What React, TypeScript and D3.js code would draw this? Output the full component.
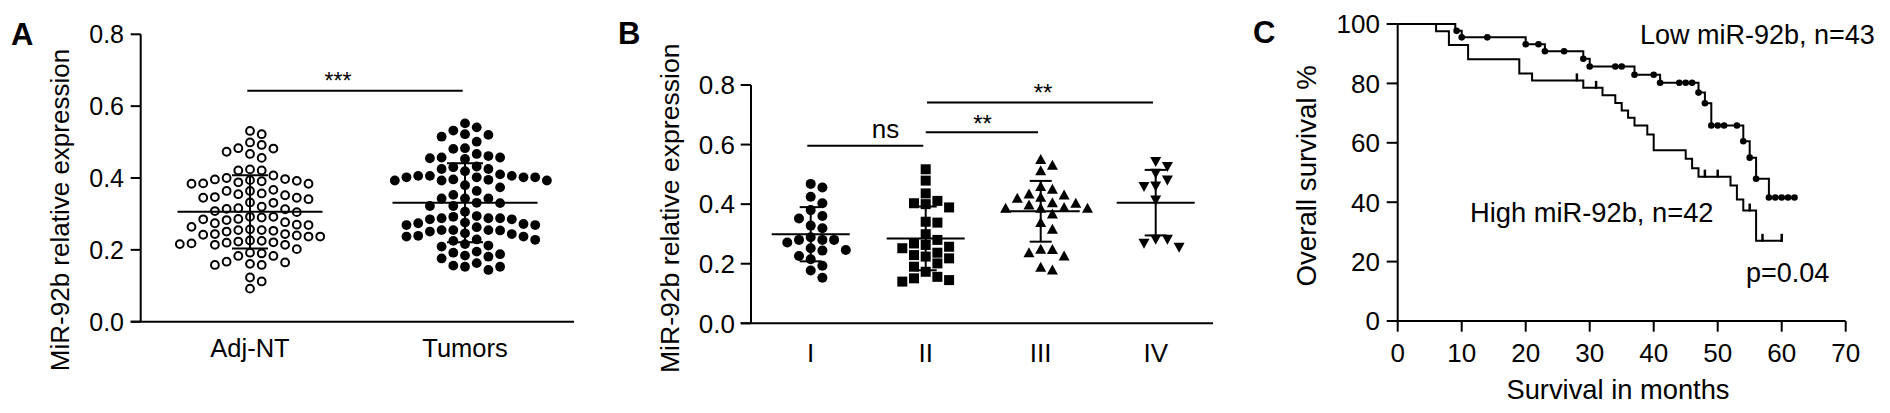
import React from "react";
import * as d3 from "d3";

// ---------- Panel A data ----------
const aCategories = ["Adj-NT", "Tumors"];
const adjNT = [
  0.531, 0.522, 0.499, 0.492, 0.483, 0.482, 0.473, 0.467, 0.456, 0.424, 0.421, 0.421,
  0.400, 0.396, 0.392, 0.388, 0.384, 0.384, 0.385, 0.391, 0.394, 0.397, 0.407,
  0.364, 0.357, 0.352, 0.345, 0.341, 0.345, 0.347, 0.355, 0.364, 0.367,
  0.332, 0.320, 0.314, 0.308, 0.305, 0.313, 0.316, 0.331,
  0.292, 0.290, 0.285, 0.277, 0.270, 0.264, 0.269, 0.274, 0.283, 0.286, 0.292,
  0.255, 0.253, 0.244, 0.240, 0.237, 0.237, 0.242, 0.244, 0.251, 0.255, 0.257,
  0.223, 0.218, 0.216, 0.214, 0.226, 0.202, 0.214, 0.220, 0.221, 0.225,
  0.190, 0.183, 0.165, 0.158, 0.192, 0.158, 0.161, 0.167, 0.183,
  0.123, 0.112, 0.092,
];
const tumors = [
  0.552, 0.541, 0.532, 0.515, 0.520, 0.522, 0.501, 0.483, 0.481,
  0.467, 0.457, 0.455, 0.453, 0.457, 0.461, 0.430, 0.432,
  0.425, 0.410, 0.406, 0.396, 0.402, 0.393, 0.402, 0.380, 0.402, 0.402, 0.406, 0.395, 0.406, 0.393, 0.419, 0.425, 0.393,
  0.374, 0.364, 0.343, 0.343, 0.343, 0.353, 0.331, 0.322, 0.322, 0.306, 0.330,
  0.292, 0.294, 0.288, 0.285, 0.288, 0.288, 0.285, 0.274, 0.269, 0.263,
  0.244, 0.237, 0.255, 0.229, 0.255, 0.225, 0.251, 0.216, 0.254, 0.212, 0.255, 0.228, 0.269, 0.237, 0.272, 0.239, 0.276, 0.246,
  0.209, 0.195, 0.188, 0.181, 0.176, 0.184, 0.192, 0.163, 0.153, 0.144, 0.153, 0.156,
];
const aMeans = [0.306, 0.331];
const aSDs = [0.102, 0.110];
const aTicks = [0, 0.2, 0.4, 0.6, 0.8];

// ---------- Panel B data ----------
const bCategories = ["I", "II", "III", "IV"];
const stageI = [0.468, 0.456, 0.425, 0.403, 0.380, 0.360, 0.352, 0.328, 0.319, 0.280, 0.280, 0.289, 0.271, 0.280, 0.252, 0.246, 0.244, 0.226, 0.215, 0.193, 0.177, 0.153];
const stageII = [0.517, 0.479, 0.436, 0.411, 0.400, 0.403, 0.389, 0.338, 0.341, 0.299, 0.280, 0.268, 0.263, 0.252, 0.257, 0.237, 0.229, 0.224, 0.218, 0.201, 0.190, 0.173, 0.151, 0.140, 0.145, 0.156];
const stageIII = [0.550, 0.531, 0.512, 0.450, 0.459, 0.431, 0.434, 0.423, 0.420, 0.405, 0.403, 0.397, 0.386, 0.386, 0.386, 0.389, 0.367, 0.338, 0.316, 0.249, 0.237, 0.248, 0.226, 0.179, 0.188];
const stageIV = [0.526, 0.543, 0.504, 0.481, 0.459, 0.461, 0.414, 0.282, 0.255, 0.269, 0.282];
const bMeans = [0.299, 0.285, 0.376, 0.405];
const bSDs = [0.091, 0.107, 0.102, 0.11];
const bTicks = [0, 0.2, 0.4, 0.6, 0.8];

// ---------- Panel C data (Kaplan-Meier) ----------
const lowEventTimes = [9, 10, 20, 23, 29, 30, 37, 41, 47, 48, 49, 54, 55, 56, 58];
const lowSurvival = [97.7, 95.5, 93.2, 90.8, 88.3, 85.7, 82.9, 80.2, 76.9, 73.3, 65.8, 60.5, 55.0, 47.9, 41.6];
const lowCensor = [9.2, 10, 14, 20, 22, 23, 26, 29, 30, 34, 35, 37, 40, 41, 44, 45, 46, 47, 48, 49, 50, 51, 53, 54, 55, 56, 58, 59, 60, 61, 62];
const lowEnd = 62.2;
const highEventTimes = [6, 8, 11, 19, 21, 29, 32, 34, 35, 36, 37, 39, 40, 45, 46, 47, 52, 53, 54, 56];
const highSurvival = [97.6, 92.9, 88.1, 83.3, 81.0, 78.5, 76.0, 73.4, 70.9, 68.4, 65.8, 62.8, 57.5, 54.6, 51.4, 48.6, 45.6, 40.9, 37.2, 27.0];
const highCensor = [28, 31, 48, 50, 55, 57, 60];
const highEnd = 60.2;
const cYTicks = [0, 20, 40, 60, 80, 100];
const cXTicks = [0, 10, 20, 30, 40, 50, 60, 70];

const FONT = "'Liberation Sans', Arial, Helvetica, sans-serif";
const SW = 2;

function swarm(values: number[], cx: number, y: (v: number) => number, dx: number, minDy: number) {
  const sorted = values.map((v) => v).sort((a, b) => b - a);
  const placed: { x: number; y: number; v: number }[] = [];
  for (const v of sorted) {
    const yy = y(v);
    for (let k = 0; k < 40; k++) {
      const off = k === 0 ? 0 : k % 2 === 1 ? Math.ceil(k / 2) : -k / 2;
      const xx = cx + off * dx;
      if (!placed.some((q) => Math.abs(q.x - xx) < 1 && Math.abs(q.y - yy) < minDy)) {
        placed.push({ x: xx, y: yy, v });
        break;
      }
    }
  }
  return placed;
}

function survAt(times: number[], surv: number[], t: number) {
  let s = 100;
  for (let i = 0; i < times.length; i++) if (times[i] <= t + 0.25) s = surv[i];
  return s;
}

function kmPoints(times: number[], surv: number[], end: number): [number, number][] {
  const pts: [number, number][] = [[0, 100]];
  times.forEach((t, i) => pts.push([t, surv[i]]));
  pts.push([end, surv[surv.length - 1]]);
  return pts;
}

const fmt1 = d3.format(".1f");

export default function App() {
  // Panel A scales
  const yA = d3.scaleLinear().domain([0, 0.8]).range([321.7, 34.3]);
  const xA = d3.scalePoint<string>().domain(aCategories).range([250, 465]);
  // Panel B scales
  const yB = d3.scaleLinear().domain([0, 0.8]).range([323.3, 85]);
  const xB = d3.scalePoint<string>().domain(bCategories).range([810.7, 1155.7]);
  // Panel C scales
  const xC = d3.scaleLinear().domain([0, 70]).range([1397.7, 1845.7]);
  const yC = d3.scaleLinear().domain([0, 100]).range([321, 24]);

  const aGroups = [adjNT, tumors];
  const bGroups = [stageI, stageII, stageIII, stageIV];

  const km = d3
    .line<[number, number]>()
    .x((d) => xC(d[0]))
    .y((d) => yC(d[1]))
    .curve(d3.curveStepAfter);

  const tickFs = 25;
  const bTickFs = 26;

  return (
    <svg
      width={1890}
      height={413}
      style={{ position: "absolute", left: 0, top: 0, background: "#fff" }}
      fontFamily={FONT}
    >
      <rect x={0} y={0} width={1890} height={413} fill="#fff" />

      {/* ================= Panel A ================= */}
      <text x={11} y={45} fontSize={31} fontWeight="bold">A</text>
      <line x1={yA.range()[0] ? 140.7 : 0} x2={140.7} y1={yA(0.8)} y2={yA(0)} stroke="#000" strokeWidth={SW} />
      <line x1={130.7} x2={574} y1={yA(0)} y2={yA(0)} stroke="#000" strokeWidth={SW} />
      {aTicks.map((t) => (
        <g key={"at" + t}>
          <line x1={130.7} x2={140.7} y1={yA(t)} y2={yA(t)} stroke="#000" strokeWidth={SW} />
          <text x={124} y={yA(t) + 0.358 * tickFs} fontSize={tickFs} textAnchor="end">{fmt1(t)}</text>
        </g>
      ))}
      <text
        transform={`translate(69,210) rotate(-90)`}
        fontSize={26}
        textAnchor="middle"
      >MiR-92b relative expression</text>
      {aCategories.map((c) => (
        <text key={c} x={xA(c)} y={357} fontSize={25.5} textAnchor="middle">{c}</text>
      ))}
      {/* significance */}
      <line x1={xA("Adj-NT")! - 2.7} x2={xA("Tumors")! - 2.3} y1={yA(0.643)} y2={yA(0.643)} stroke="#000" strokeWidth={SW} />
      <text x={338} y={89} fontSize={23} textAnchor="middle">***</text>
      {/* points */}
      {aGroups.map((g, gi) => {
        const cx = xA(aCategories[gi])!;
        const pts = swarm(g, cx, yA, 11.7, 10.5);
        return (
          <g key={"ag" + gi}>
            {pts.map((p, i) =>
              gi === 0 ? (
                <circle key={i} cx={p.x} cy={p.y} r={3.9} fill="#fff" stroke="#000" strokeWidth={2} />
              ) : (
                <circle key={i} cx={p.x} cy={p.y} r={4.9} fill="#000" />
              )
            )}
            <line x1={cx - 72.5} x2={cx + 72.5} y1={yA(aMeans[gi])} y2={yA(aMeans[gi])} stroke="#000" strokeWidth={SW} />
            <line x1={cx} x2={cx} y1={yA(aMeans[gi] + aSDs[gi])} y2={yA(aMeans[gi] - aSDs[gi])} stroke="#000" strokeWidth={SW} />
            <line x1={cx - 18} x2={cx + 18} y1={yA(aMeans[gi] + aSDs[gi])} y2={yA(aMeans[gi] + aSDs[gi])} stroke="#000" strokeWidth={SW} />
            <line x1={cx - 18} x2={cx + 18} y1={yA(aMeans[gi] - aSDs[gi])} y2={yA(aMeans[gi] - aSDs[gi])} stroke="#000" strokeWidth={SW} />
          </g>
        );
      })}

      {/* ================= Panel B ================= */}
      <text x={618} y={43.5} fontSize={31} fontWeight="bold">B</text>
      <line x1={751} x2={751} y1={yB(0.8)} y2={yB(0)} stroke="#000" strokeWidth={SW} />
      <line x1={740.7} x2={1213} y1={yB(0)} y2={yB(0)} stroke="#000" strokeWidth={SW} />
      {bTicks.map((t) => (
        <g key={"bt" + t}>
          <line x1={740.7} x2={751} y1={yB(t)} y2={yB(t)} stroke="#000" strokeWidth={SW} />
          <text x={735} y={yB(t) + 0.358 * bTickFs} fontSize={bTickFs} textAnchor="end">{fmt1(t)}</text>
        </g>
      ))}
      <text transform={`translate(679,208.3) rotate(-90)`} fontSize={26.6} textAnchor="middle">
        MiR-92b relative expression
      </text>
      {bCategories.map((c) => (
        <text key={c} x={xB(c)} y={361.7} fontSize={26} textAnchor="middle">{c}</text>
      ))}
      {/* significance */}
      <line x1={xB("I")! - 3.4} x2={xB("II")! - 2.4} y1={yB(0.596)} y2={yB(0.596)} stroke="#000" strokeWidth={SW} />
      <text x={885.5} y={138} fontSize={26} textAnchor="middle">ns</text>
      <line x1={xB("II")!} x2={xB("III")! - 2.7} y1={yB(0.641)} y2={yB(0.641)} stroke="#000" strokeWidth={SW} />
      <text x={982.5} y={132} fontSize={24} textAnchor="middle">**</text>
      <line x1={xB("II")! + 1.3} x2={xB("IV")! - 2.7} y1={yB(0.741)} y2={yB(0.741)} stroke="#000" strokeWidth={SW} />
      <text x={1043} y={100.5} fontSize={24} textAnchor="middle">**</text>
      {bGroups.map((g, gi) => {
        const cx = xB(bCategories[gi])!;
        const pts = swarm(g, cx, yB, 11.7, 10.5);
        const m = bMeans[gi];
        const sd = bSDs[gi];
        return (
          <g key={"bg" + gi}>
            {pts.map((p, i) => {
              if (gi === 0) return <circle key={i} cx={p.x} cy={p.y} r={5} fill="#000" />;
              if (gi === 1) return <rect key={i} x={p.x - 5} y={p.y - 5} width={10} height={10} fill="#000" />;
              if (gi === 2)
                return (
                  <path key={i} d={`M${p.x},${p.y - 5.5}L${p.x + 5.5},${p.y + 4.5}L${p.x - 5.5},${p.y + 4.5}Z`} fill="#000" />
                );
              return (
                <path key={i} d={`M${p.x},${p.y + 5.5}L${p.x + 5.5},${p.y - 4.5}L${p.x - 5.5},${p.y - 4.5}Z`} fill="#000" />
              );
            })}
            <line x1={cx - 39} x2={cx + 39} y1={yB(m)} y2={yB(m)} stroke="#000" strokeWidth={SW} />
            <line x1={cx} x2={cx} y1={yB(m + sd)} y2={yB(m - sd)} stroke="#000" strokeWidth={SW} />
            <line x1={cx - 11} x2={cx + 11} y1={yB(m + sd)} y2={yB(m + sd)} stroke="#000" strokeWidth={SW} />
            <line x1={cx - 11} x2={cx + 11} y1={yB(m - sd)} y2={yB(m - sd)} stroke="#000" strokeWidth={SW} />
          </g>
        );
      })}

      {/* ================= Panel C ================= */}
      <text x={1253} y={43} fontSize={31} fontWeight="bold">C</text>
      <line x1={xC(0)} x2={xC(0)} y1={yC(100)} y2={yC(0)} stroke="#000" strokeWidth={SW} />
      <line x1={xC(0)} x2={xC(70)} y1={yC(0)} y2={yC(0)} stroke="#000" strokeWidth={SW} />
      {cYTicks.map((t) => (
        <g key={"cy" + t}>
          <line x1={1386.7} x2={xC(0)} y1={yC(t)} y2={yC(t)} stroke="#000" strokeWidth={SW} />
          <text x={1380} y={yC(t) + 0.358 * 26} fontSize={26} textAnchor="end">{t}</text>
        </g>
      ))}
      {cXTicks.map((t) => (
        <g key={"cx" + t}>
          <line x1={xC(t)} x2={xC(t)} y1={yC(0)} y2={331.7} stroke="#000" strokeWidth={SW} />
          <text x={xC(t)} y={361.7} fontSize={26} textAnchor="middle">{t}</text>
        </g>
      ))}
      <text transform={`translate(1316,175.8) rotate(-90)`} fontSize={27.7} textAnchor="middle">Overall survival %</text>
      <text x={1618} y={399.3} fontSize={27.3} textAnchor="middle">Survival in months</text>

      <path d={km(kmPoints(lowEventTimes, lowSurvival, lowEnd)) || ""} fill="none" stroke="#000" strokeWidth={SW} />
      <path d={km(kmPoints(highEventTimes, highSurvival, highEnd)) || ""} fill="none" stroke="#000" strokeWidth={SW} />
      {lowCensor.map((t, i) => (
        <circle key={"lc" + i} cx={xC(t)} cy={yC(survAt(lowEventTimes, lowSurvival, t))} r={3.3} fill="#000" />
      ))}
      {highCensor.map((t, i) => {
        const yy = yC(survAt(highEventTimes, highSurvival, t));
        return <line key={"hc" + i} x1={xC(t)} x2={xC(t)} y1={yy - 7} y2={yy + 1} stroke="#000" strokeWidth={2.5} />;
      })}

      <text x={1640} y={44.3} fontSize={27} textAnchor="start">Low miR-92b, n=43</text>
      <text x={1470} y={221.7} fontSize={27.3} textAnchor="start">High miR-92b, n=42</text>
      <text x={1746} y={281.7} fontSize={27} textAnchor="start">p=0.04</text>
    </svg>
  );
}
